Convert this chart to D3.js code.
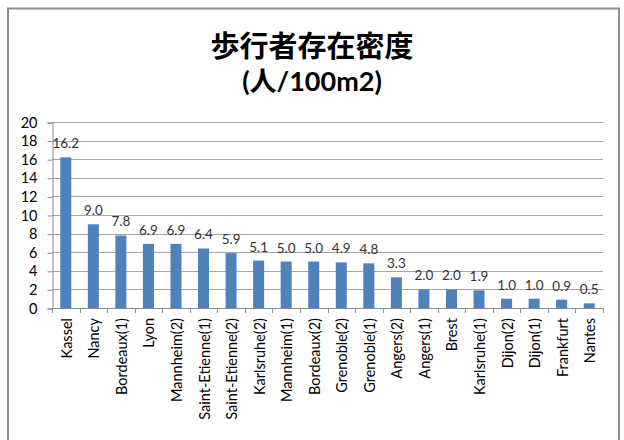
<!DOCTYPE html>
<html>
<head>
<meta charset="utf-8">
<script src="https://cdn.jsdelivr.net/npm/d3@7"></script>
<style>
  html, body { margin: 0; padding: 0; background: #fff; }
  svg { display: block; }
</style>
</head>
<body>
<svg id="chart" width="624" height="440"></svg>
<script>
// Pedestrian presence density per site (persons / 100 m²)
const categories = ["Kassel", "Nancy", "Bordeaux(1)", "Lyon", "Mannheim(2)", "Saint-Etienne(1)",
  "Saint-Etienne(2)", "Karlsruhe(2)", "Mannheim(1)", "Bordeaux(2)", "Grenoble(2)", "Grenoble(1)",
  "Angers(2)", "Angers(1)", "Brest", "Karlsruhe(1)", "Dijon(2)", "Dijon(1)", "Frankfurt", "Nantes"];
const values = [16.2, 9.0, 7.8, 6.9, 6.9, 6.4, 5.9, 5.1, 5.0, 5.0, 4.9, 4.8,
  3.3, 2.0, 2.0, 1.9, 1.0, 1.0, 0.9, 0.5];
const yTicks = [0, 2, 4, 6, 8, 10, 12, 14, 16, 18, 20];
const titleLines = ["歩行者存在密度", "(人/100m2)"];

const svg = d3.select("#chart");
const font = "Lato, 'Noto Sans CJK JP', sans-serif";

// chart frame
svg.append("rect")
  .attr("x", 8).attr("y", 8.5).attr("width", 611).attr("height", 440)
  .attr("fill", "#fff").attr("stroke", "#8e8e8e").attr("stroke-width", 2);

// title
svg.append("g").selectAll("text").data(titleLines).join("text")
  .attr("x", 312).attr("y", (d, i) => 57 + i * 34)
  .attr("text-anchor", "middle")
  .attr("font-family", font).attr("font-weight", "bold")
  .attr("font-size", (d, i) => i === 0 ? 29 : 27)
  .attr("fill", "#000")
  .text(d => d);

const plot = { left: 52, right: 603, top: 122, bottom: 308 };

const x = d3.scaleBand().domain(categories)
  .range([plot.left, plot.right]).paddingInner(0.6).paddingOuter(0.3);
const y = d3.scaleLinear().domain([0, 20]).range([plot.bottom, plot.top]);

// gridlines
svg.append("g").selectAll("line").data(yTicks.filter(t => t > 0)).join("line")
  .attr("x1", plot.left).attr("x2", plot.right)
  .attr("y1", d => Math.round(y(d)) + 0.5).attr("y2", d => Math.round(y(d)) + 0.5)
  .attr("stroke", "#a6a6a6").attr("stroke-width", 1);

// y axis
const yAxis = svg.append("g")
  .attr("transform", `translate(${plot.left + 0.5},0.5)`)
  .call(d3.axisLeft(y).tickValues(yTicks).tickSize(5).tickPadding(10));
yAxis.select(".domain").attr("stroke", "#8c8c8c");
yAxis.selectAll(".tick line").attr("stroke", "#8c8c8c");
yAxis.selectAll(".tick text")
  .attr("font-family", font).attr("font-size", 14.5).attr("fill", "#000");

// bars
svg.append("g").selectAll("rect").data(values).join("rect")
  .attr("x", (d, i) => x(categories[i]))
  .attr("y", d => y(d))
  .attr("width", x.bandwidth())
  .attr("height", d => y(0) - y(d))
  .attr("fill", "#4f81bd");

// value labels
svg.append("g").selectAll("text").data(values).join("text")
  .attr("x", (d, i) => x(categories[i]) + x.bandwidth() / 2)
  .attr("y", d => y(d) - 9)
  .attr("text-anchor", "middle")
  .attr("font-family", font).attr("font-size", 13.5).attr("fill", "#333")
  .text(d => d.toFixed(1));

// x axis with tick marks on category boundaries
const xg = svg.append("g");
xg.append("line")
  .attr("x1", plot.left).attr("x2", plot.right)
  .attr("y1", plot.bottom + 0.5).attr("y2", plot.bottom + 0.5)
  .attr("stroke", "#8c8c8c");
xg.selectAll("line.tick").data(d3.range(categories.length + 1)).join("line")
  .attr("class", "tick")
  .attr("x1", i => Math.round(plot.left + i * (plot.right - plot.left) / categories.length) + 0.5)
  .attr("x2", i => Math.round(plot.left + i * (plot.right - plot.left) / categories.length) + 0.5)
  .attr("y1", plot.bottom).attr("y2", plot.bottom + 5)
  .attr("stroke", "#8c8c8c");

// category labels, rotated
xg.selectAll("text").data(categories).join("text")
  .attr("transform", d => `translate(${x(d) + x.bandwidth() / 2 + 6},${plot.bottom + 10}) rotate(-90)`)
  .attr("text-anchor", "end")
  .attr("font-family", font).attr("font-size", 14.5).attr("fill", "#000")
  .text(d => d);
</script>
</body>
</html>
